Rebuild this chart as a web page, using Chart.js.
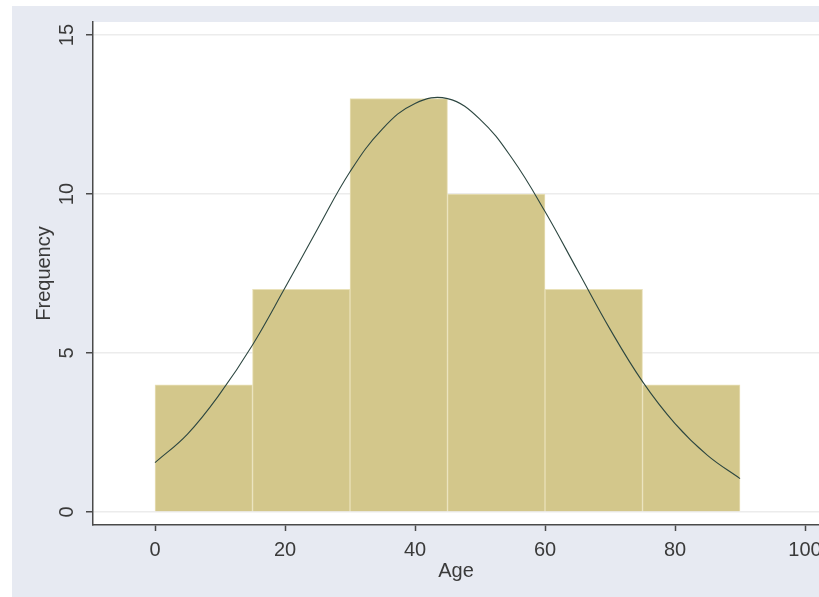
<!DOCTYPE html>
<html>
<head>
<meta charset="utf-8">
<script src="https://cdn.jsdelivr.net/npm/chart.js@4.4.1/dist/chart.umd.min.js"></script>
<style>
  body { margin: 0; background: #ffffff; }
  canvas { display: block; }
</style>
</head>
<body>
<canvas id="myChart" width="819" height="597"></canvas>
<script>
 // histogram bins (centres of 15-year bins) and counts
 const binCentres = [7.5, 22.5, 37.5, 52.5, 67.5, 82.5];
 const binCounts = [4, 7, 13, 10, 7, 4];

 // normal curve, every 5 years
 const curveAges = [0, 5, 10, 15, 20, 25, 30, 35, 40, 45, 50, 55, 60, 65, 70, 75, 80, 85, 90];
 const curveFreq = [1.55, 2.45, 3.72, 5.25, 7.05, 8.9, 10.7, 12.05, 12.85, 13.0, 12.35, 11.1, 9.45, 7.6, 5.75, 4.1, 2.78, 1.78, 1.05];

 const xTicks = [0, 20, 40, 60, 80, 100];
 const yTicks = [0, 5, 10, 15];

 const textColor = "#3a3a3a";
 const axisColor = "#4a4a4a";

 const bgPlugin = {
   id: "bg",
   beforeDraw(chart) {
     const ctx = chart.ctx;
     const a = chart.chartArea;
     ctx.save();
     ctx.fillStyle = "#ffffff";
     ctx.fillRect(0, 0, chart.width, chart.height);
     ctx.fillStyle = "#e7eaf2";
     ctx.fillRect(12, 6, chart.width - 12, chart.height - 6);
     ctx.fillStyle = "#ffffff";
     ctx.fillRect(a.left, a.top, a.right - a.left, a.bottom - a.top);
     ctx.restore();
   }
 };

 // y tick labels are turned on their side, like the original
 const yLabelPlugin = {
   id: "ylabels",
   afterDraw(chart) {
     const ctx = chart.ctx;
     const y = chart.scales.y;
     ctx.save();
     ctx.fillStyle = textColor;
     ctx.font = "20px 'Liberation Sans', Arial, sans-serif";
     ctx.textAlign = "center";
     ctx.textBaseline = "alphabetic";
     yTicks.forEach(function(v) {
       ctx.save();
       ctx.translate(73, y.getPixelForValue(v));
       ctx.rotate(-Math.PI / 2);
       ctx.fillText(String(v), 0, 0);
       ctx.restore();
     });
     ctx.restore();
   }
 };

 new Chart("myChart", {
   type: "bar",
   data: {
     datasets: [{
       type: "line",
       data: curveAges.map(function(a, i) { return {x: a, y: curveFreq[i]}; }),
       borderColor: "#2c4640",
       borderWidth: 1.1,
       pointRadius: 0,
       tension: 0.4,
       fill: false,
       order: 0
     }, {
       type: "bar",
       data: binCentres.map(function(c, i) { return {x: c, y: binCounts[i]}; }),
       backgroundColor: "#d3c78b",
       borderColor: "#e9e1b8",
       borderWidth: 1,
       barPercentage: 1,
       categoryPercentage: 1,
       order: 1
     }]
   },
   options: {
     responsive: false,
     animation: false,
     layout: {padding: {top: 22, left: 0, right: 0, bottom: 0}},
     plugins: {
       legend: {display: false},
       tooltip: {enabled: false}
     },
     scales: {
       x: {
         type: "linear",
         offset: false,
         min: -9.54,
         max: 102.15,
         afterBuildTicks: function(scale) {
           scale.ticks = xTicks.map(function(v) { return {value: v}; });
         },
         afterFit: function(scale) {
           scale.height = 72;
           scale.paddingLeft = 0;
           scale.paddingRight = 0;
         },
         grid: {offset: false, drawOnChartArea: false, drawTicks: true, tickLength: 6, tickColor: axisColor, tickWidth: 1.5},
         border: {display: true, color: axisColor, width: 1.5},
         ticks: {
           color: textColor,
           padding: 7,
           maxRotation: 0,
           autoSkip: false,
           font: {family: "'Liberation Sans', Arial, sans-serif", size: 20}
         },
         title: {
           display: true,
           text: "Age",
           color: textColor,
           padding: {top: 0, bottom: 14},
           font: {family: "'Liberation Sans', Arial, sans-serif", size: 20}
         }
       },
       y: {
         min: -0.41,
         max: 15.41,
         afterBuildTicks: function(scale) {
           scale.ticks = yTicks.map(function(v) { return {value: v}; });
         },
         afterFit: function(scale) {
           scale.width = 93;
           scale.paddingTop = 0;
           scale.paddingBottom = 0;
         },
         grid: {color: "#ececec", lineWidth: 1.5, drawTicks: true, tickLength: 7, tickColor: axisColor, tickWidth: 1.5},
         border: {display: true, color: axisColor, width: 1.5},
         ticks: {display: false},
         title: {
           display: true,
           text: "Frequency",
           color: textColor,
           padding: {top: 32, bottom: 0},
           font: {family: "'Liberation Sans', Arial, sans-serif", size: 20}
         }
       }
     }
   },
   plugins: [bgPlugin, yLabelPlugin]
 });
</script>
</body>
</html>
